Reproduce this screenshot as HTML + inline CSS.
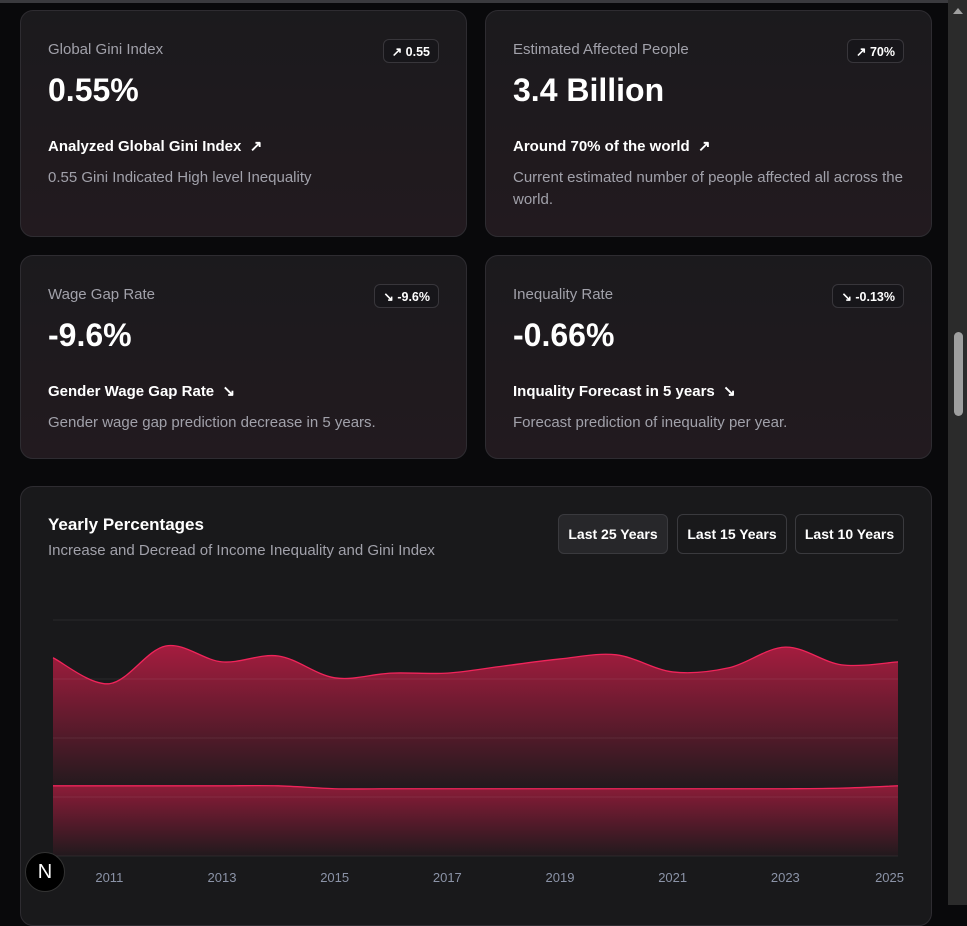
<!DOCTYPE html>
<html><head><meta charset="utf-8">
<style>
*{box-sizing:border-box;margin:0;padding:0}
body{width:967px;height:905px;overflow:hidden;background:#09090b;font-family:"Liberation Sans",sans-serif;position:relative}
.topline{position:absolute;left:0;top:0;width:948px;height:3px;background:#3a3a3e}
.card{position:absolute;border:1px solid #2e2c31;border-radius:13px;background:linear-gradient(180deg,#1b1a1d,#221a1f)}
.lbl{position:absolute;left:27px;top:30px;font-size:15px;color:#a1a1aa}
.big{position:absolute;left:27px;top:61px;font-size:32px;color:#fff;font-weight:bold}
.sub{position:absolute;left:27px;top:126px;font-size:15px;color:#fff;font-weight:bold}
.desc{position:absolute;left:27px;top:156px;font-size:15px;color:#a1a1aa;line-height:22px;width:400px}
.badge{position:absolute;right:27px;top:28px;height:24px;border:1px solid #38363b;border-radius:6px;font-size:12.5px;font-weight:bold;color:#fff;padding:4px 8px;background:#17161a}
.btn{position:absolute;top:514px;height:40px;border:1px solid #3a3a3e;border-radius:6px;color:#fff;font-size:14px;font-weight:bold;text-align:center;line-height:38px;background:#19191b}
.scroll{position:absolute;left:948px;top:0;width:19px;height:905px;background:#2b2b2b}
</style></head><body>
<div class="topline"></div>

<div class="card" style="left:20px;top:10px;width:447px;height:227px">
 <div class="lbl">Global Gini Index</div>
 <div class="badge">↗ 0.55</div>
 <div class="big">0.55%</div>
 <div class="sub">Analyzed Global Gini Index &nbsp;↗</div>
 <div class="desc">0.55 Gini Indicated High level Inequality</div>
</div>
<div class="card" style="left:485px;top:10px;width:447px;height:227px">
 <div class="lbl">Estimated Affected People</div>
 <div class="badge">↗ 70%</div>
 <div class="big">3.4 Billion</div>
 <div class="sub">Around 70% of the world &nbsp;↗</div>
 <div class="desc">Current estimated number of people affected all across the world.</div>
</div>
<div class="card" style="left:20px;top:255px;width:447px;height:204px">
 <div class="lbl">Wage Gap Rate</div>
 <div class="badge">↘ -9.6%</div>
 <div class="big">-9.6%</div>
 <div class="sub">Gender Wage Gap Rate &nbsp;↘</div>
 <div class="desc">Gender wage gap prediction decrease in 5 years.</div>
</div>
<div class="card" style="left:485px;top:255px;width:447px;height:204px">
 <div class="lbl">Inequality Rate</div>
 <div class="badge">↘ -0.13%</div>
 <div class="big">-0.66%</div>
 <div class="sub">Inquality Forecast in 5 years &nbsp;↘</div>
 <div class="desc">Forecast prediction of inequality per year.</div>
</div>

<div class="card" style="left:20px;top:486px;width:912px;height:440px;background:#19191b">
 <div style="position:absolute;left:27px;top:28px;font-size:17px;font-weight:bold;color:#fff">Yearly Percentages</div>
 <div style="position:absolute;left:27px;top:55px;font-size:15px;color:#a1a1aa">Increase and Decread of Income Inequality and Gini Index</div>
</div>
<div class="btn" style="left:558px;width:110px;background:#27272a">Last 25 Years</div>
<div class="btn" style="left:677px;width:110px">Last 15 Years</div>
<div class="btn" style="left:795px;width:109px">Last 10 Years</div>

<svg id="chart" width="967" height="905" style="position:absolute;left:0;top:0">
 <defs>
  <linearGradient id="g1" x1="0" y1="0" x2="0" y2="1"><stop offset="0" stop-color="#be1d45" stop-opacity="0.85"/><stop offset="1" stop-color="#be1d45" stop-opacity="0.05"/></linearGradient>
  <linearGradient id="g2" x1="0" y1="0" x2="0" y2="1"><stop offset="0" stop-color="#be1d45" stop-opacity="0.7"/><stop offset="1" stop-color="#be1d45" stop-opacity="0.05"/></linearGradient>
 </defs>
</svg>

<div style="position:absolute;left:25px;top:852px;width:40px;height:40px;border-radius:50%;background:#000;border:1px solid #333;color:#fff;font-size:20px;text-align:center;line-height:38px">N</div>

<div class="scroll">
 <div style="position:absolute;left:5px;top:8px;width:0;height:0;border-left:5px solid transparent;border-right:5px solid transparent;border-bottom:6px solid #a0a0a0"></div>
 <div style="position:absolute;left:6px;top:332px;width:9px;height:84px;border-radius:5px;background:#9f9f9f"></div>
</div>

<script>
const years=[2010,2011,2012,2013,2014,2015,2016,2017,2018,2019,2020,2021,2022,2023,2024,2025];
const giniValues=[1.19,1.19,1.19,1.19,1.19,1.14,1.14,1.14,1.14,1.14,1.14,1.14,1.14,1.14,1.15,1.19];
const inequalityValues=[2.17,1.73,2.37,2.10,2.20,1.88,1.96,1.96,2.08,2.20,2.27,1.98,2.05,2.40,2.09,2.10];
const tickYears=[2011,2013,2015,2017,2019,2021,2023,2025];
const yTicks=[0,1,2,3,4];

const X0=53,X1=898,Y0=856,Y1=620,YMAX=4;
const sx=y=>X0+(y-years[0])/(years[years.length-1]-years[0])*(X1-X0);
const sy=v=>Y0-v/YMAX*(Y0-Y1);
const svg=document.getElementById('chart');
const NS='http://www.w3.org/2000/svg';
function curve(pts){
 let d='M'+pts[0][0]+','+pts[0][1];
 for(let i=0;i<pts.length-1;i++){
  const p0=pts[i-1]||pts[i],p1=pts[i],p2=pts[i+1],p3=pts[i+2]||p2;
  const c1=[p1[0]+(p2[0]-p0[0])/6,p1[1]+(p2[1]-p0[1])/6];
  const c2=[p2[0]-(p3[0]-p1[0])/6,p2[1]-(p3[1]-p1[1])/6];
  d+=' C'+c1+' '+c2+' '+p2;
 }
 return d;
}
const lowPts=years.map((y,i)=>[sx(y),sy(giniValues[i])]);
const topPts=years.map((y,i)=>[sx(y),sy(giniValues[i]+inequalityValues[i])]);
const revLow=curve(lowPts.slice().reverse()).replace(/^M/,'L');
const a1=document.createElementNS(NS,'path');


a1.setAttribute('d',curve(topPts)+' '+revLow+' Z');
a1.setAttribute('fill','url(#g1)');
svg.appendChild(a1);
const a2=document.createElementNS(NS,'path');


a2.setAttribute('d',curve(lowPts)+' L'+X1+','+Y0+' L'+X0+','+Y0+' Z');
a2.setAttribute('fill','url(#g2)');
svg.appendChild(a2);
yTicks.forEach(t=>{
 const l=document.createElementNS(NS,'line');
 
 
 l.setAttribute('x1',X0);l.setAttribute('x2',X1);l.setAttribute('y1',sy(t));l.setAttribute('y2',sy(t));
 l.setAttribute('stroke','#ffffff');l.setAttribute('stroke-opacity','0.07');l.setAttribute('stroke-width','1');
 svg.appendChild(l);
});
[[topPts,'inequality-line'],[lowPts,'gini-line']].forEach(([p,n])=>{
 const l=document.createElementNS(NS,'path');
 
 
 l.setAttribute('d',curve(p));l.setAttribute('fill','none');
 l.setAttribute('stroke','#f0245a');l.setAttribute('stroke-width','1.3');
 svg.appendChild(l);
});
tickYears.forEach((y,i)=>{
 const t=document.createElementNS(NS,'text');
 
 
 const last=i===tickYears.length-1;
 t.setAttribute('x',last?sx(y)+6:sx(y));t.setAttribute('y',882);
 t.setAttribute('text-anchor',last?'end':'middle');
 t.setAttribute('font-size','13');t.setAttribute('fill','#8b93a7');
 t.setAttribute('font-family','Liberation Sans, sans-serif');
 t.textContent=y;
 svg.appendChild(t);
});
</script>
</body></html>
